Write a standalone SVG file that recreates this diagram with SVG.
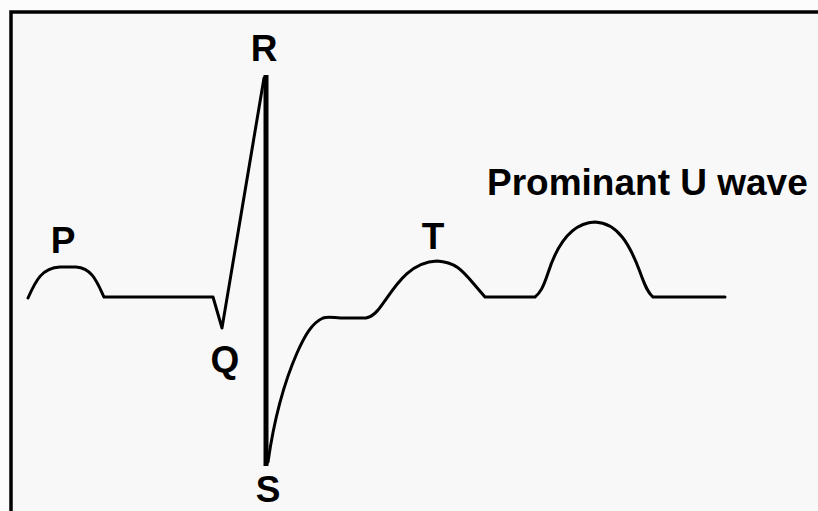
<svg xmlns="http://www.w3.org/2000/svg" width="818" height="511" viewBox="0 0 818 511">
<style>
.lbl{font-family:"Liberation Sans",Arial,sans-serif;font-weight:bold;font-size:37px;fill:#000}
.wave{fill:none;stroke:#000;stroke-width:3;stroke-linejoin:round;stroke-linecap:round}
</style>
<rect x="0" y="0" width="818" height="511" fill="#fcfcfc"/>
<rect id="frame" x="11" y="12" width="830" height="530" fill="#f8f8f8" stroke="#000" stroke-width="3.5"/>
<g id="connectors">
<path class="wave" d="M28,298 C36,280 42,268 60,267 L76,267 C92,268 97,282 104,297 L213,297 L222,328 L264,78"/>
<line x1="266" y1="75" x2="266" y2="466" stroke="#000" stroke-width="5"/>
<path class="wave" d="M268,462 C274,420 283,385 297,353 C305,335 312,323 323,318 C328,316 335,318 345,318 L366,318 C373,317 378,311 384,302 C396,285 410,262 437,261 C455,262 462,270 473,283 L485,297 L535,297 C540,293 543,288 548,273 C556,248 570,223 595,222 C618,223 630,245 640,272 C645,286 648,293 653,297 L725,297"/>
</g>
<g id="P"><text class="lbl" x="63" y="253" text-anchor="middle">P</text></g>
<g id="Q"><text class="lbl" x="225" y="372" text-anchor="middle">Q</text></g>
<g id="R"><text class="lbl" x="264" y="61" text-anchor="middle">R</text></g>
<g id="S"><text class="lbl" x="268" y="502" text-anchor="middle" font-size="35">S</text></g>
<g id="T"><text class="lbl" x="433" y="249" text-anchor="middle">T</text></g>
<g id="U"><text class="lbl" x="487" y="195">Prominant U wave</text></g>
</svg>
